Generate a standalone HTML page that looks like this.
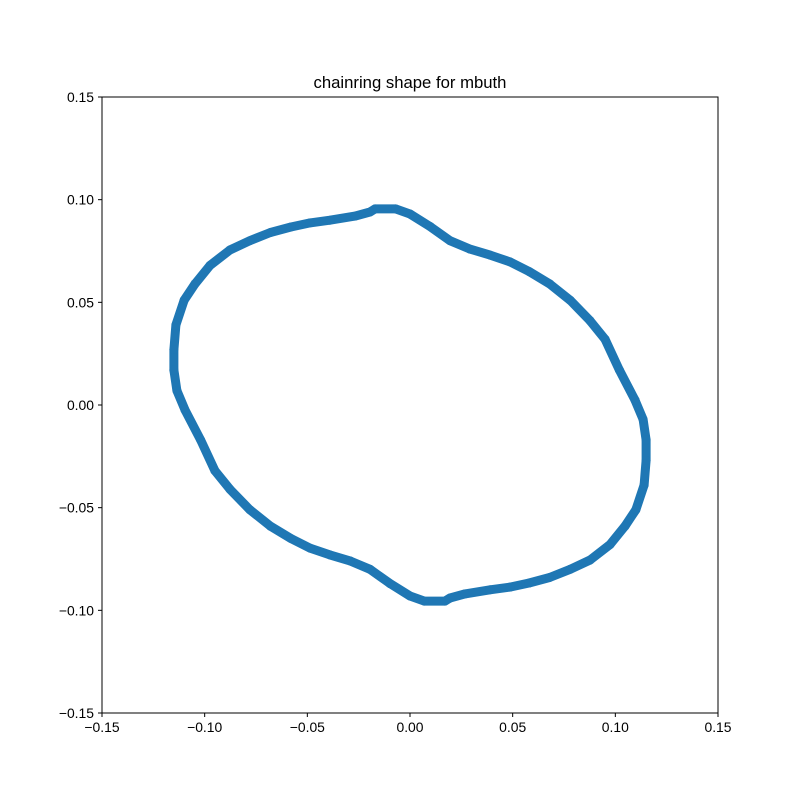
<!DOCTYPE html>
<html><head><meta charset="utf-8"><style>
html,body{margin:0;padding:0;background:#fff;}
svg text{font-family:"Liberation Sans","DejaVu Sans",sans-serif;fill:#000;}
</style></head><body>
<svg id="chart" width="800" height="800" xmlns="http://www.w3.org/2000/svg">
<rect width="800" height="800" fill="#fff"/>
<text x="410" y="88" font-size="16.7" text-anchor="middle">chainring shape for mbuth</text>
<g id="plot"></g>
<rect x="102" y="97" width="616" height="616" fill="none" stroke="#000" stroke-width="1"/>
<g id="axes"></g>
</svg>
<script>
const xs = [-0.017,-0.007,0,0.0097,0.0195,0.029,0.039,0.0487,0.058,0.068,0.078,0.0877,0.095,0.102,0.1096,0.1135,0.115,0.115,0.114,0.110,0.1047,0.0974,0.0877,0.078,0.068,0.058,0.0487,0.039,0.0268,0.0195,
0.017,0.007,0,-0.0097,-0.0195,-0.029,-0.039,-0.0487,-0.058,-0.068,-0.078,-0.0877,-0.095,-0.102,-0.1096,-0.1135,-0.115,-0.115,-0.114,-0.110,-0.1047,-0.0974,-0.0877,-0.078,-0.068,-0.058,-0.0487,-0.039,-0.0268,-0.0195];
const ys = [0.0955,0.0955,0.093,0.087,0.080,0.076,0.073,0.0697,0.065,0.059,0.051,0.041,0.032,0.017,0.0024,-0.007,-0.017,-0.027,-0.039,-0.051,-0.059,-0.068,-0.0755,-0.080,-0.084,-0.0867,-0.0887,-0.090,-0.092,-0.094,
-0.0955,-0.0955,-0.093,-0.087,-0.080,-0.076,-0.073,-0.0697,-0.065,-0.059,-0.051,-0.041,-0.032,-0.017,-0.0024,0.007,0.017,0.027,0.039,0.051,0.059,0.068,0.0755,0.080,0.084,0.0867,0.0887,0.090,0.092,0.094];
const xTicks = [-0.15,-0.10,-0.05,0.00,0.05,0.10,0.15];
const yTicks = [-0.15,-0.10,-0.05,0.00,0.05,0.10,0.15];
const tickLabels = ["\u22120.15","\u22120.10","\u22120.05","0.00","0.05","0.10","0.15"];

const NS="http://www.w3.org/2000/svg";
const L=102,R=718,T=97,B=713;
function sx(v){return L+(v+0.15)/0.3*(R-L);}
function sy(v){return B-(v+0.15)/0.3*(B-T);}
function mk(tag,attrs,parent){const e=document.createElementNS(NS,tag);for(const k in attrs)e.setAttribute(k,attrs[k]);parent.appendChild(e);return e;}
const plot=document.getElementById('plot');
let d='';
xs.forEach((x,i)=>{d+=(i?'L':'M')+sx(x).toFixed(1)+' '+sy(ys[i]).toFixed(1);});
d+='Z';
const line=mk('path',{d:d,fill:'none',stroke:'#1f77b4','stroke-width':9,'stroke-linejoin':'round','stroke-linecap':'round'},plot);


xs.forEach((x,i)=>{
  const c=mk('circle',{cx:sx(x),cy:sy(ys[i]),r:4.5,fill:'#1f77b4'},plot);
  
  
});
const axes=document.getElementById('axes');
xTicks.forEach((v,i)=>{
  const x=sx(v);
  const t=mk('line',{x1:x,x2:x,y1:B,y2:B+4,stroke:'#000'},axes);
  
  
  const tx=mk('text',{x:x,y:B+19,'font-size':13.9,'text-anchor':'middle'},axes);
  tx.textContent=tickLabels[i];
  
  
});
yTicks.forEach((v,i)=>{
  const y=sy(v);
  const t=mk('line',{x1:L-4,x2:L,y1:y,y2:y,stroke:'#000'},axes);
  
  
  const tx=mk('text',{x:L-8,y:y+5,'font-size':13.9,'text-anchor':'end'},axes);
  tx.textContent=tickLabels[i];
  
  
});
</script>
</body></html>
